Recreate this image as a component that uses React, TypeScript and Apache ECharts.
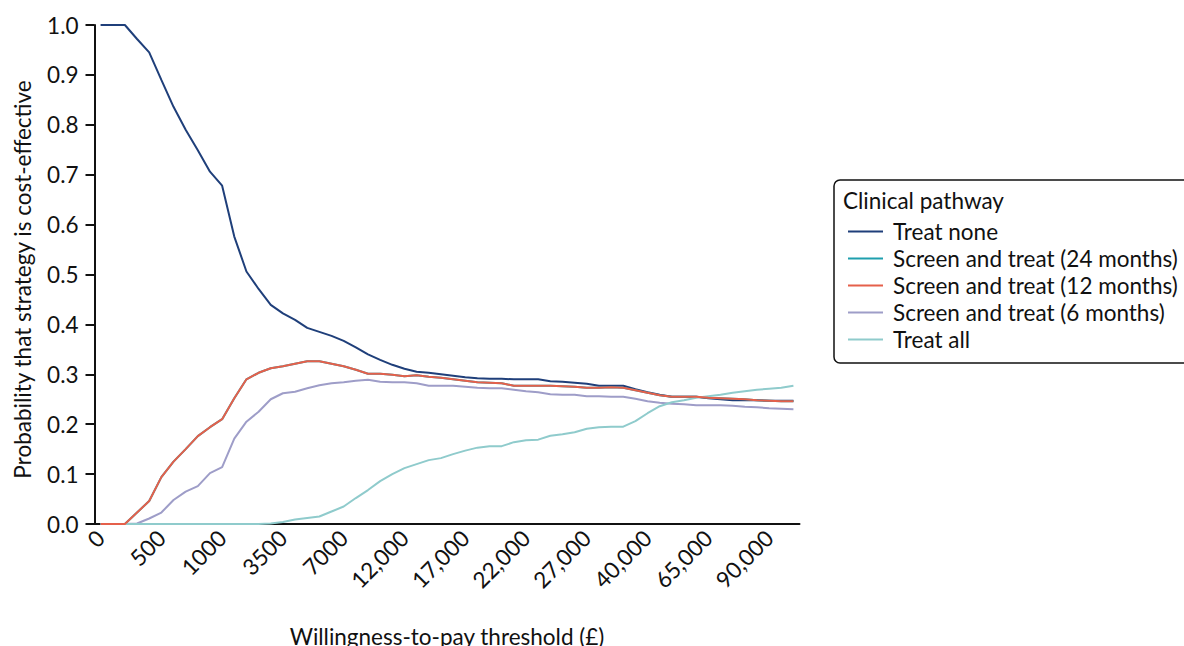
import React, { useEffect, useRef } from "react";
import * as echarts from "echarts";

// Willingness-to-pay thresholds (£) along the horizontal axis
const thresholds: string[] = [
  "0", "100", "200", "300", "400", "500", "600", "700", "800", "900", "1000",
  "1500", "2000", "2500", "3000", "3500",
  "4000", "4500", "5000", "6000", "7000",
  "8000", "9000", "10,000", "11,000", "12,000",
  "13,000", "14,000", "15,000", "16,000", "17,000",
  "18,000", "19,000", "20,000", "21,000", "22,000",
  "23,000", "24,000", "25,000", "26,000", "27,000",
  "28,000", "29,000", "30,000", "35,000", "40,000",
  "45,000", "50,000", "55,000", "60,000", "65,000",
  "70,000", "75,000", "80,000", "85,000", "90,000",
  "95,000", "100,000",
];

// Probability that each strategy is cost-effective at each threshold
const treatNone: number[] = [
  1.0, 1.0, 1.0, 0.972, 0.945, 0.89, 0.836, 0.79, 0.749, 0.706, 0.678,
  0.576, 0.506, 0.471, 0.439, 0.422, 0.409, 0.393, 0.385, 0.377, 0.367,
  0.354, 0.34, 0.329, 0.319, 0.311, 0.305, 0.303, 0.3, 0.297, 0.294,
  0.292, 0.291, 0.291, 0.29, 0.29, 0.29, 0.286, 0.285, 0.283, 0.281,
  0.277, 0.277, 0.277, 0.27, 0.264, 0.259, 0.255, 0.255, 0.255, 0.252,
  0.25, 0.248, 0.248, 0.248, 0.247, 0.247, 0.247,
];

const screen24: number[] = [
  0, 0, 0, 0.023, 0.046, 0.094, 0.125, 0.15, 0.176, 0.194, 0.21,
  0.252, 0.29, 0.303, 0.312, 0.316, 0.321, 0.326, 0.326, 0.321, 0.316,
  0.309, 0.301, 0.301, 0.299, 0.296, 0.298, 0.295, 0.293, 0.29, 0.287,
  0.284, 0.283, 0.282, 0.277, 0.277, 0.277, 0.277, 0.276, 0.275, 0.273,
  0.273, 0.274, 0.273, 0.268, 0.263, 0.258, 0.255, 0.255, 0.255, 0.253,
  0.252, 0.251, 0.25, 0.248, 0.247, 0.246, 0.246,
];

const screen12: number[] = [
  0, 0, 0, 0.023, 0.046, 0.094, 0.125, 0.15, 0.176, 0.194, 0.21,
  0.252, 0.29, 0.303, 0.312, 0.316, 0.321, 0.326, 0.326, 0.321, 0.316,
  0.309, 0.301, 0.301, 0.299, 0.296, 0.298, 0.295, 0.293, 0.29, 0.287,
  0.284, 0.283, 0.282, 0.277, 0.277, 0.277, 0.277, 0.276, 0.275, 0.273,
  0.273, 0.274, 0.273, 0.268, 0.263, 0.258, 0.255, 0.255, 0.255, 0.253,
  0.252, 0.251, 0.25, 0.248, 0.247, 0.246, 0.246,
];

const screen6: number[] = [
  0, 0, 0, 0.001, 0.011, 0.023, 0.048, 0.065, 0.076, 0.102, 0.114,
  0.171, 0.205, 0.225, 0.25, 0.262, 0.265, 0.272, 0.278, 0.282, 0.284,
  0.287, 0.289, 0.285, 0.284, 0.284, 0.282, 0.277, 0.277, 0.277, 0.275,
  0.273, 0.272, 0.272, 0.269, 0.266, 0.264, 0.26, 0.259, 0.259, 0.256,
  0.256, 0.255, 0.255, 0.251, 0.246, 0.243, 0.241, 0.24, 0.238, 0.238,
  0.238, 0.237, 0.235, 0.234, 0.232, 0.231, 0.23,
];

const treatAll: number[] = [
  0, 0, 0, 0, 0, 0, 0, 0, 0, 0, 0,
  0, 0, 0, 0.001, 0.004, 0.009, 0.012, 0.015, 0.025, 0.035,
  0.052, 0.068, 0.086, 0.1, 0.112, 0.12, 0.128, 0.132, 0.14, 0.147,
  0.153, 0.156, 0.156, 0.164, 0.168, 0.169, 0.177, 0.18, 0.184, 0.191,
  0.194, 0.195, 0.195, 0.206, 0.222, 0.236, 0.244, 0.248, 0.253, 0.256,
  0.259, 0.263, 0.266, 0.269, 0.271, 0.273, 0.277,
];

const seriesNames: string[] = [
  "Treat none",
  "Screen and treat (24 months)",
  "Screen and treat (12 months)",
  "Screen and treat (6 months)",
  "Treat all",
];
const seriesColors: string[] = ["#1f3f7a", "#1f9fae", "#e5604b", "#9e9dc8", "#8fcbcc"];
const seriesValues: number[][] = [treatNone, screen24, screen12, screen6, treatAll];

const FONT = "Lato";
const FS = 22.5;
const LABEL_EVERY = 5;

export default function App() {
  const ref = useRef<HTMLDivElement | null>(null);

  useEffect(() => {
    if (!ref.current) return;
    const chart = echarts.init(ref.current, null, { renderer: "svg" });

    chart.setOption({
      animation: false,
      backgroundColor: "#ffffff",
      textStyle: { fontFamily: FONT },
      grid: {
        left: 94.5,
        width: 705,
        top: 25,
        height: 499,
        containLabel: false,
        outerBoundsMode: "none",
      },
      xAxis: {
        type: "category",
        data: thresholds,
        boundaryGap: true,
        name: "Willingness-to-pay threshold (£)",
        nameLocation: "middle",
        nameGap: 101,
        nameTextStyle: { fontFamily: FONT, fontSize: FS, color: "#111" },
        axisLine: { lineStyle: { color: "#111", width: 2 } },
        axisTick: {
          alignWithLabel: true,
          interval: (i: number) => i % LABEL_EVERY === 0 && i > 0,
          length: 9,
          lineStyle: { color: "#111", width: 2 },
        },
        axisLabel: {
          interval: (i: number) => i % LABEL_EVERY === 0,
          rotate: 45,
          margin: 10,
          fontFamily: FONT,
          fontSize: FS,
          color: "#111",
        },
        splitLine: { show: false },
      },
      yAxis: {
        type: "value",
        min: 0,
        max: 1,
        interval: 0.1,
        name: "Probability that strategy is cost-effective",
        nameLocation: "middle",
        nameGap: 61,
        nameTextStyle: {
          fontFamily: FONT,
          fontSize: FS,
          color: "#111",
          padding: [0, 10, 0, 0],
        },
        axisLine: { show: true, lineStyle: { color: "#111", width: 2 } },
        axisTick: { show: true, length: 9, lineStyle: { color: "#111", width: 2 } },
        axisLabel: {
          margin: 16,
          fontFamily: FONT,
          fontSize: FS,
          color: "#111",
          formatter: (v: number) => v.toFixed(1),
        },
        splitLine: { show: false },
      },
      legend: {
        orient: "vertical",
        left: 848,
        top: 220,
        padding: 0,
        itemGap: 4,
        itemWidth: 35,
        itemHeight: 2,
        icon: "rect",
        data: seriesNames,
        textStyle: {
          fontFamily: FONT,
          fontSize: FS,
          color: "#111",
          lineHeight: 22,
          padding: [0, 0, 0, 5],
        },
      },
      graphic: [
        {
          type: "rect",
          shape: { x: 834, y: 180, width: 370, height: 183, r: 6 },
          style: { fill: "none", stroke: "#111", lineWidth: 1.5 },
          silent: true,
        },
        {
          type: "text",
          x: 843,
          y: 200,
          style: {
            text: "Clinical pathway",
            fontFamily: FONT,
            fontSize: FS,
            fill: "#111",
            verticalAlign: "middle",
          },
          silent: true,
        },
      ],
      series: seriesNames.map((name, k) => ({
        name,
        type: "line",
        data: seriesValues[k],
        symbol: "none",
        color: seriesColors[k],
        lineStyle: { color: seriesColors[k], width: 2 },
        z: k === 2 ? 4 : 2,
      })),
    });

    return () => chart.dispose();
  }, []);

  return (
    <div
      ref={ref}
      style={{ position: "absolute", left: 0, top: 0, width: 1184, height: 646 }}
    />
  );
}
